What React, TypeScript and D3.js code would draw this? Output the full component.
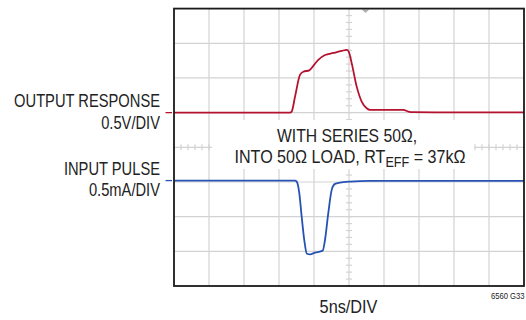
import React from "react";
import * as d3 from "d3";

// time in ns (5ns/DIV, 10 divisions)
const outputTimeNs = [0, 16.57, 16.81, 17.29, 18.0, 18.47, 19.33, 19.9, 20.61, 21.57, 22.76, 23.96, 24.67, 24.96, 25.39, 26.1, 26.81, 27.53, 28.0, 30.86, 32.76, 33.47, 34.19, 40, 50];
const outputV = [0, 0, 0.014, 0.23, 0.545, 0.59, 0.61, 0.675, 0.76, 0.83, 0.86, 0.89, 0.905, 0.88, 0.71, 0.375, 0.16, 0.064, 0.04, 0.04, 0.04, 0.015, 0.006, 0.004, 0.003];

const inputTimeNs = [0, 17.29, 17.53, 17.9, 18.24, 18.61, 18.96, 19.43, 20.14, 21.24, 21.57, 22.04, 22.53, 23.0, 23.71, 25.14, 28, 50];
const inputMA = [0, 0, -0.014, -0.18, -0.52, -0.857, -1.05, -1.064, -1.04, -1.01, -0.857, -0.47, -0.134, -0.048, -0.029, -0.014, -0.004, -0.004];

const xDivs = d3.range(0, 11);
const yDivs = d3.range(0, 9);

const W = 526, H = 320;
const left = 174, right = 524, top = 8.6, bottom = 286;
const FONT = "'Liberation Sans', Arial, sans-serif";

function Txt(props: { x: number; y: number; sx?: number; size: number; anchor?: string; children: React.ReactNode }) {
  const { x, y, sx = 0.84, size, anchor = "start", children } = props;
  return (
    <text transform={`translate(${x},${y}) scale(${sx},1)`} textAnchor={anchor} fontSize={size} fontFamily={FONT} fill="#222">
      {children}
    </text>
  );
}

export default function App() {
  const x = d3.scaleLinear().domain([0, 50]).range([left, right]);
  const yDiv = d3.scaleLinear().domain([0, 8]).range([bottom, top]);
  const outOffset = 5;
  const inOffset = 3.04;
  const redLine = d3.line<number>().x((_, i) => x(outputTimeNs[i])).y((v) => yDiv(outOffset + v / 0.5)).curve(d3.curveMonotoneX);
  const blueLine = d3.line<number>().x((_, i) => x(inputTimeNs[i])).y((v) => yDiv(inOffset + v / 0.5)).curve(d3.curveMonotoneX);

  const gridColor = "#d3d3d3";
  const hTicks = d3.range(0, 50.001, 1);
  const vTicks = d3.range(0, 8.001, 0.2);
  const cx = x(25);
  const cy = yDiv(4);
  const red = "#b5122f";
  const blue = "#2652b4";

  return (
    <svg width={W} height={H} style={{ position: "absolute", left: 0, top: 0, background: "#fff" }}>
      <rect x={0} y={0} width={W} height={H} fill="#fff" />
      {xDivs.slice(1, -1).map((d) => (
        <line key={"vx" + d} x1={x(d * 5)} x2={x(d * 5)} y1={top} y2={bottom} stroke={gridColor} strokeWidth={1.2} />
      ))}
      {yDivs.slice(1, -1).map((d) => (
        <line key={"hy" + d} x1={left} x2={right} y1={yDiv(d)} y2={yDiv(d)} stroke={gridColor} strokeWidth={1.2} />
      ))}
      {hTicks.map((t) => (
        <line key={"ht" + t} x1={x(t)} x2={x(t)} y1={cy - 3} y2={cy + 3} stroke={gridColor} strokeWidth={1.2} />
      ))}
      {vTicks.map((t) => (
        <line key={"vt" + t} x1={cx - 3} x2={cx + 3} y1={yDiv(t)} y2={yDiv(t)} stroke={gridColor} strokeWidth={1.2} />
      ))}
      <polygon points={`${x(27.36) - 3.8},${top + 1} ${x(27.36) + 3.8},${top + 1} ${x(27.36)},${top + 4.4}`} fill="#b0b0b0" />
      {/* annotation background */}
      <rect x={212} y={120} width={262} height={49} fill="#fff" />
      <path d={redLine(outputV) || ""} fill="none" stroke={red} strokeWidth={1.8} />
      <path d={blueLine(inputMA) || ""} fill="none" stroke={blue} strokeWidth={1.8} />
      <rect x={left} y={top} width={right - left} height={bottom - top} fill="none" stroke="#1a1a1a" strokeWidth={1.8} />
      <line x1={165.5} x2={172} y1={yDiv(outOffset)} y2={yDiv(outOffset)} stroke={red} strokeWidth={1.3} />
      <line x1={165.5} x2={172} y1={yDiv(inOffset)} y2={yDiv(inOffset)} stroke={blue} strokeWidth={1.3} />
      <Txt x={160} y={107.3} size={17.5} anchor="end">OUTPUT RESPONSE</Txt>
      <Txt x={160} y={129} size={17.5} anchor="end">0.5V/DIV</Txt>
      <Txt x={160} y={175} size={17.5} anchor="end">INPUT PULSE</Txt>
      <Txt x={160} y={195.7} size={17.5} anchor="end">0.5mA/DIV</Txt>
      <Txt x={347} y={141.7} size={18.5} sx={0.85} anchor="middle">WITH SERIES 50Ω,</Txt>
      <Txt x={350} y={163.3} size={18.5} sx={0.87} anchor="middle">
        INTO 50Ω LOAD, RT<tspan fontSize={14.5} dy={3.5}>EFF</tspan><tspan dy={-3.5}> = 37kΩ</tspan>
      </Txt>
      <Txt x={348.5} y={313.3} size={18.5} sx={0.88} anchor="middle">5ns/DIV</Txt>
      <Txt x={524.5} y={299.3} size={8.5} sx={0.9} anchor="end">6560 G33</Txt>
    </svg>
  );
}
